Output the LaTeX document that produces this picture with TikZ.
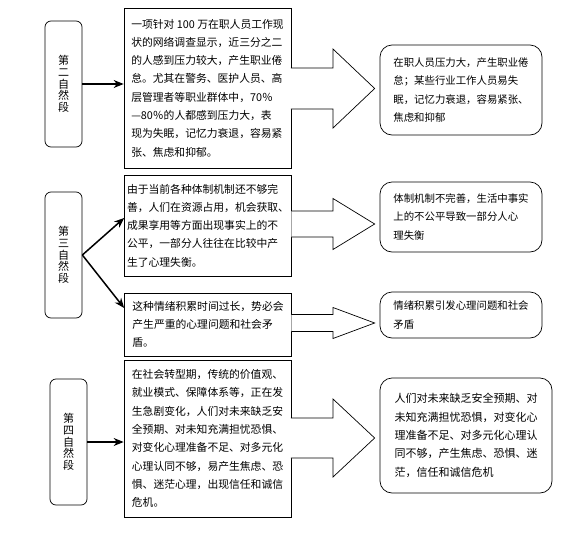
\documentclass[tikz,border=0pt]{standalone}
\usepackage{fontspec}
\setmainfont{Noto Sans CJK SC}
\usetikzlibrary{arrows,arrows.meta,calc}

\newcommand{\blockarrow}[5]{%
\filldraw[barrow] ($(#1.east |- 0,#3-#4)+(-0.6,0)$) -- (333,#3-#4) -- (333,#3-#5)
  -- ($(#2.west |- 0,#3)+(-5,0)$) -- (333,#3+#5) -- (333,#3+#4)
  -- ($(#1.east |- 0,#3+#4)+(-0.6,0)$);}

\begin{document}
\begin{tikzpicture}[x=1pt,y=-1pt,
para/.style={draw,rounded corners=6pt,line width=0.7pt,minimum width=37pt,minimum height=126pt,align=center,inner sep=0pt,font=\fontsize{11}{11.6}\selectfont},
txt/.style={draw,line width=0.7pt,minimum width=167pt,align=left,inner sep=2pt,font=\fontsize{10.8}{18.3}\selectfont},
sum/.style={draw,rounded corners=12pt,line width=0.7pt,minimum width=162pt,align=left,inner sep=2pt,font=\fontsize{10.4}{18.3}\selectfont},
arrow/.style={-{Stealth[length=10pt,width=8pt]},line width=1.5pt},
barrow/.style={draw,fill=white,line width=0.7pt} ]

\useasboundingbox[fill=white] (0,0) rectangle (587,536);

\node[para](P2) at (63.5,84) {第\\二\\自\\然\\段};

\node[para](P3) at (63.5,255) {第\\三\\自\\然\\段};

\node[para](P4) at (68.5,442) {第\\四\\自\\然\\段};

\node[txt,minimum height=160pt](T1) at (207.5,88) {一项针对 100 万在职人员工作现\\状的网络调查显示，近三分之二\\的人感到压力较大，产生职业倦\\怠。尤其在警务、医护人员、高\\层管理者等职业群体中，70％\\—80％的人都感到压力大，表\\现为失眠，记忆力衰退，容易紧\\张、焦虑和抑郁。};

\node[txt,minimum height=101pt](T2) at (208,225.5) {由于当前各种体制机制还不够完\\善，人们在资源占用，机会获取、\\成果享用等方面出现事实上的不\\公平，一部分人往往在比较中产\\生了心理失衡。};

\node[txt,minimum height=63pt](T3) at (208,324.5) {这种情绪积累时间过长，势必会\\产生严重的心理问题和社会矛\\盾。};

\node[txt,minimum height=157pt](T4) at (207.5,438.5) {在社会转型期，传统的价值观、\\就业模式、保障体系等，正在发\\生急剧变化，人们对未来缺乏安\\全预期、对未知充满担忧恐惧、\\对变化心理准备不足、对多元化\\心理认同不够，易产生焦虑、恐\\惧、迷茫心理，出现信任和诚信\\危机。};

\node[sum,minimum height=90pt](S1) at (461,90) {在职人员压力大，产生职业倦\\怠；某些行业工作人员易失\\眠，记忆力衰退，容易紧张、\\焦虑和抑郁};

\node[sum,minimum height=70pt](S2) at (461,217) {体制机制不完善，生活中事实\\上的不公平导致一部分人心\\理失衡};

\node[sum,minimum height=46pt](S3) at (461,315) {情绪积累引发心理问题和社会\\矛盾};

\node[sum,minimum height=115pt,minimum width=172pt,font=\fontsize{11}{18.3}\selectfont](S4) at (466,435.5) {人们对未来缺乏安全预期、对\\未知充满担忧恐惧，对变化心\\理准备不足、对多元化心理认\\同不够，产生焦虑、恐惧、迷\\茫，信任和诚信危机};

\draw[arrow] (P2.east) -- (P2.east -| T1.west);

\draw[arrow] (P3.east) -- ([yshift=7.5pt]T2.west);

\draw[arrow] (P3.east) -- ([yshift=16.5pt]T3.west);

\draw[arrow] (P4.east) -- (P4.east -| T4.west);

\blockarrow{T1}{S1}{88.5}{20.5}{39.5}

\blockarrow{T2}{S2}{224}{13}{25.5}

\blockarrow{T3}{S3}{323}{8.5}{15.5}

\blockarrow{T4}{S4}{438}{20}{39}

\end{tikzpicture}
\end{document}
